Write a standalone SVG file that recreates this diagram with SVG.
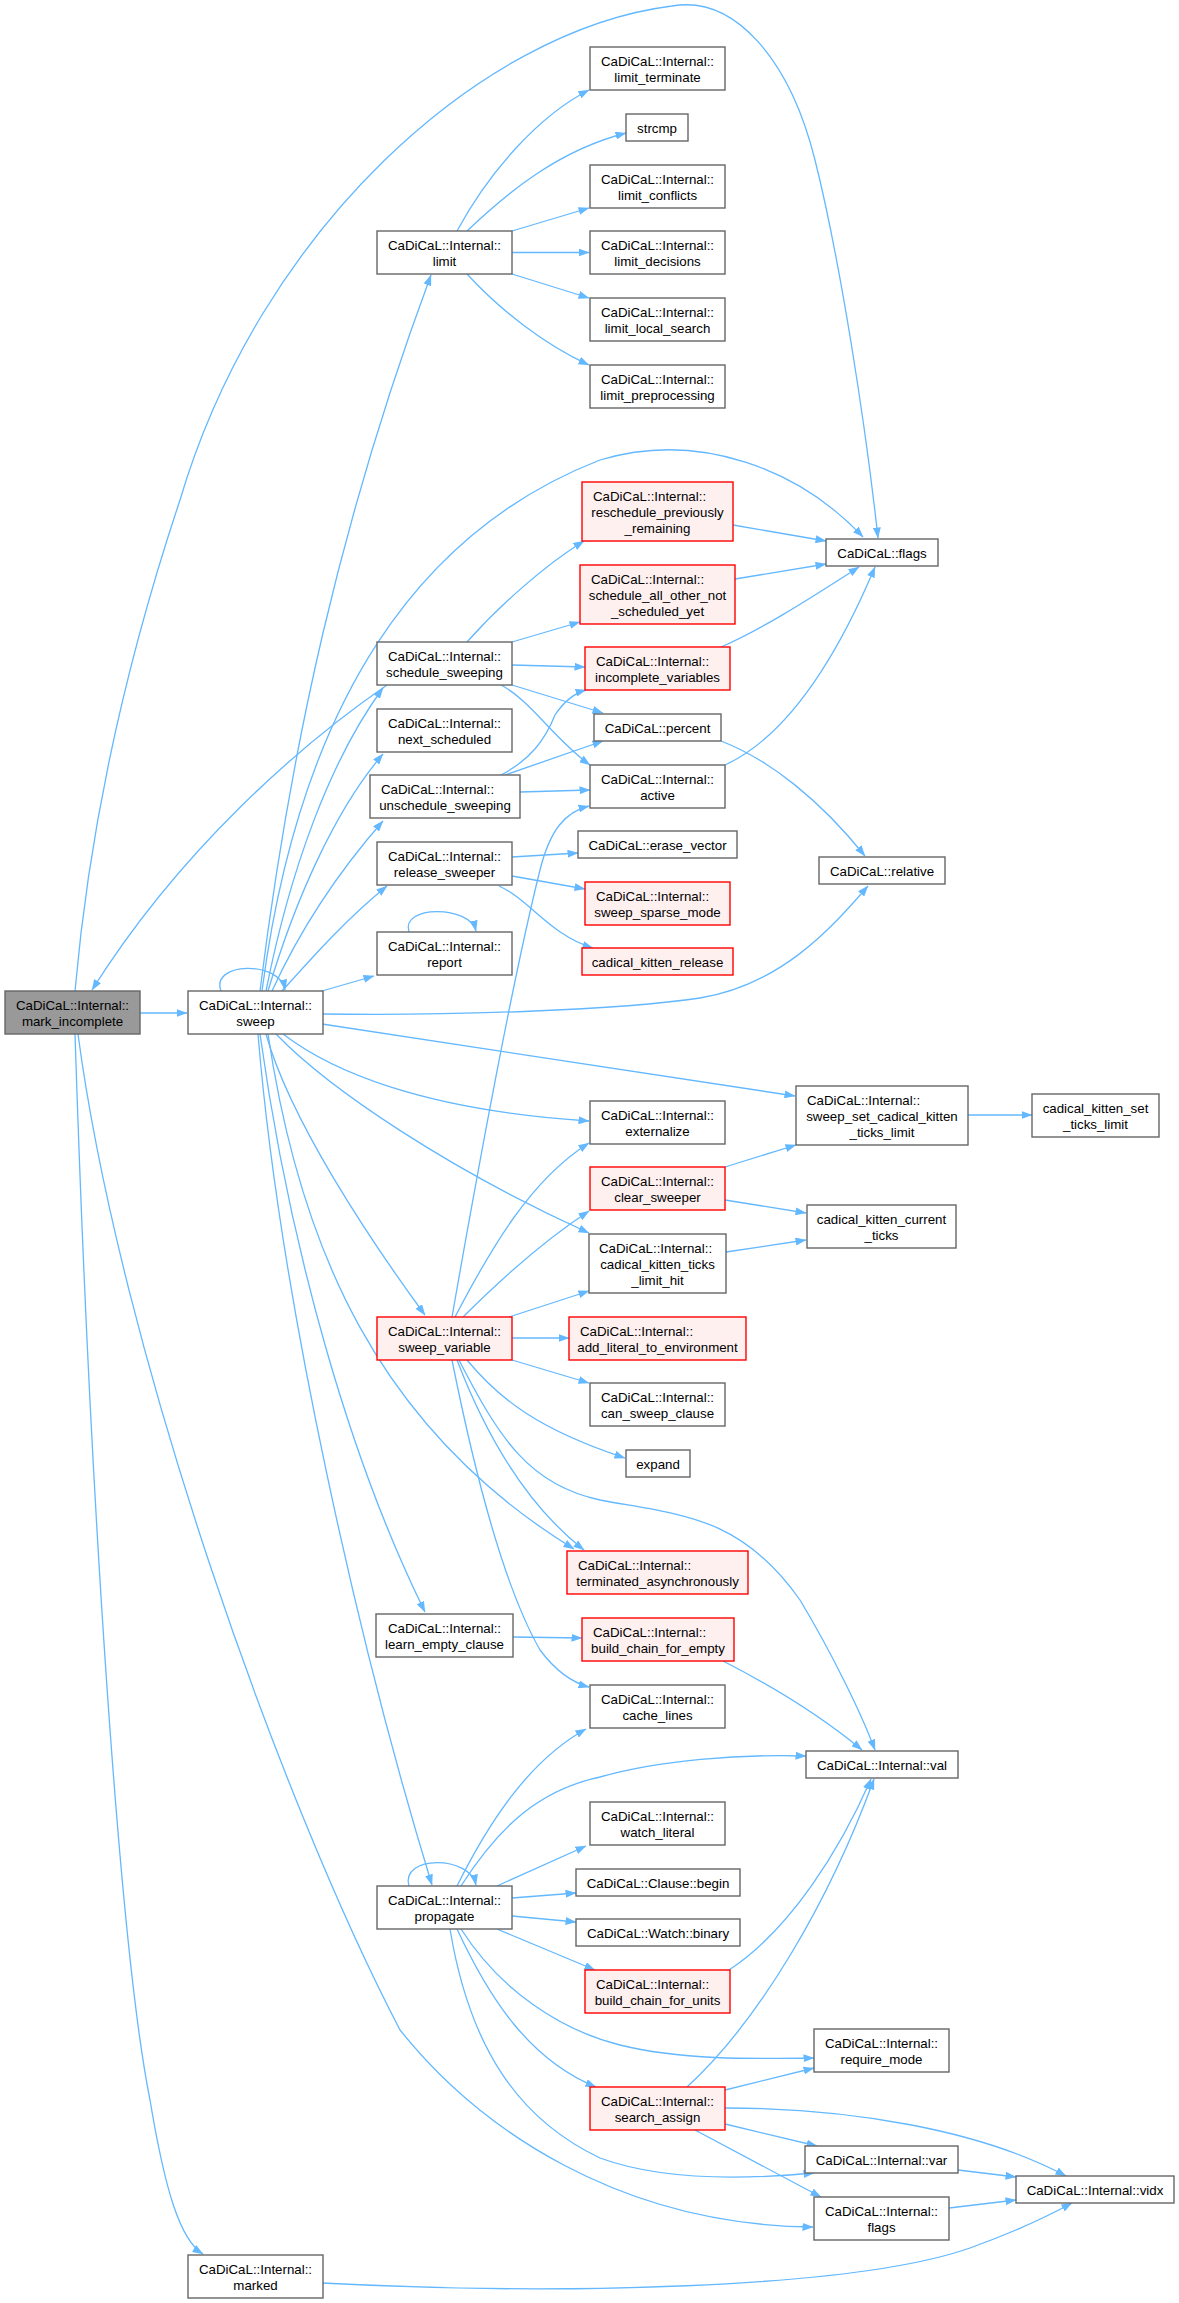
<svg xmlns="http://www.w3.org/2000/svg" width="1179" height="2303" viewBox="0 0 1179 2303">
<style>
rect{fill:#fff;stroke:#666;stroke-width:1.4}
.r rect{fill:#fff0f0;stroke:#f00}
.g rect{fill:#999}
text{font-family:"Liberation Sans",Arial,Helvetica,sans-serif;font-size:13.3px;fill:#000}
.c{text-anchor:middle}
#edges path{fill:none;stroke:#63b8ff;stroke-width:1.3;marker-end:url(#a)}
</style>
<defs>
<marker id="a" markerWidth="11" markerHeight="8" refX="10.5" refY="4" orient="auto" markerUnits="userSpaceOnUse"><path d="M0,0 L11,4 L0,8 z" fill="#63b8ff"/></marker>
</defs>
<rect x="0" y="0" width="1179" height="2303" style="fill:#fff;stroke:none"/>
<g id="edges">
<path d="M140,1013 L187,1013"/>
<path d="M75,991 C90,820 130,650 180,500 C260,230 480,30 672,6 C735,-5 790,60 815,160 C840,260 865,420 878,538"/>
<path d="M75,1034 C90,1500 120,1950 150,2100 C165,2190 180,2240 203,2254"/>
<path d="M78,1034 C120,1350 280,1800 400,2030 C480,2130 620,2225 813,2227"/>
<path d="M387,685 C300,745 180,850 92,990"/>
<path d="M221,991 C210,962 280,960 285,990"/>
<path d="M260,991 C290,750 340,520 431,275"/>
<path d="M262,991 C300,700 420,530 600,460 C700,430 800,470 863,537"/>
<path d="M266,991 C290,870 330,760 383,688"/>
<path d="M268,991 C295,900 335,810 383,754"/>
<path d="M272,991 C300,930 340,870 383,821"/>
<path d="M282,991 C310,960 345,920 387,886"/>
<path d="M322,991 L374,976"/>
<path d="M322,1014 C450,1016 620,1010 700,998 C780,985 830,930 868,886"/>
<path d="M322,1024 L795,1096"/>
<path d="M283,1034 C330,1070 420,1110 589,1121"/>
<path d="M276,1034 C330,1090 450,1170 589,1233"/>
<path d="M266,1034 C290,1120 370,1240 425,1315"/>
<path d="M268,1034 C300,1250 380,1430 574,1549"/>
<path d="M260,1034 C290,1250 350,1460 425,1612"/>
<path d="M258,1034 C280,1300 360,1650 432,1885"/>
<path d="M457,231 C490,170 540,115 589,90"/>
<path d="M467,231 C510,190 560,150 626,133"/>
<path d="M512,231 L589,208"/>
<path d="M512,252.5 L589,252.5"/>
<path d="M512,274 L589,298"/>
<path d="M467,274 C500,310 545,345 589,365"/>
<path d="M467,642 C500,605 545,565 584,541"/>
<path d="M512,642 L580,622"/>
<path d="M512,665 L585,667"/>
<path d="M512,685 L603,713"/>
<path d="M501,685 C530,700 555,740 590,765"/>
<path d="M501,775 C530,760 545,740 555,715 C565,700 575,693 586,690"/>
<path d="M505,775 L603,741"/>
<path d="M520,792 L590,790"/>
<path d="M512,857 L578,853"/>
<path d="M512,876 L585,889"/>
<path d="M499,886 C530,900 550,935 593,948"/>
<path d="M409,932 C400,905 470,905 476,931"/>
<path d="M733,525 L826,541"/>
<path d="M735,579 L826,564"/>
<path d="M721,647 C760,630 800,605 859,567"/>
<path d="M725,765 C790,735 840,650 875,567"/>
<path d="M721,741 C770,760 820,800 865,856"/>
<path d="M452,1317 C490,1100 520,950 540,870 C550,830 565,812 589,806"/>
<path d="M455,1317 C490,1250 530,1180 589,1143"/>
<path d="M463,1317 C500,1280 545,1240 589,1211"/>
<path d="M509,1317 L589,1291"/>
<path d="M512,1338 L569,1338"/>
<path d="M512,1360 L589,1383"/>
<path d="M467,1360 C500,1400 540,1430 625,1458"/>
<path d="M459,1360 C500,1440 530,1485 600,1500 C680,1515 740,1515 800,1600 C830,1650 860,1710 875,1750"/>
<path d="M457,1360 C480,1420 520,1500 584,1550"/>
<path d="M452,1360 C470,1450 500,1580 540,1650 C555,1670 570,1682 589,1687"/>
<path d="M725,1167 L796,1145"/>
<path d="M725,1200 L806,1213"/>
<path d="M726,1252 L806,1240"/>
<path d="M968,1115 L1032,1115"/>
<path d="M513,1637 L582,1638"/>
<path d="M723,1661 C770,1685 820,1715 862,1750"/>
<path d="M409,1886 C400,1855 470,1855 476,1885"/>
<path d="M457,1886 C490,1820 530,1760 586,1729"/>
<path d="M461,1886 C500,1825 540,1790 600,1777 C660,1760 740,1754 806,1756"/>
<path d="M497,1886 L586,1846"/>
<path d="M512,1898 L576,1893"/>
<path d="M512,1916 L576,1922"/>
<path d="M497,1929 L595,1970"/>
<path d="M461,1929 C500,1990 560,2030 620,2045 C680,2060 750,2059 814,2058"/>
<path d="M457,1929 C490,2000 530,2060 596,2087"/>
<path d="M450,1929 C470,2050 520,2120 600,2158 C660,2180 740,2180 814,2173"/>
<path d="M729,1970 C790,1930 840,1850 871,1779"/>
<path d="M687,2087 C760,2020 830,1900 874,1779"/>
<path d="M725,2090 L814,2068"/>
<path d="M725,2108 C850,2108 980,2130 1066,2176"/>
<path d="M725,2124 L817,2146"/>
<path d="M695,2130 L821,2197"/>
<path d="M958,2170 L1016,2177"/>
<path d="M949,2208 L1016,2200"/>
<path d="M322,2283 C550,2295 850,2290 970,2248 C1020,2230 1050,2215 1072,2203"/>
</g>
<g id="mark_incomplete" class="g"><rect x="5" y="991" width="135" height="43"/><text class="c" x="72.5" y="1009.5">CaDiCaL::Internal::</text><text class="c" x="72.5" y="1025.5">mark_incomplete</text></g>
<g id="sweep"><rect x="188" y="991" width="135" height="43"/><text class="c" x="255.5" y="1009.5">CaDiCaL::Internal::</text><text class="c" x="255.5" y="1025.5">sweep</text></g>
<g id="limit"><rect x="377" y="231" width="135" height="43"/><text class="c" x="444.5" y="249.5">CaDiCaL::Internal::</text><text class="c" x="444.5" y="265.5">limit</text></g>
<g id="limit_terminate"><rect x="590" y="47" width="135" height="43"/><text class="c" x="657.5" y="65.5">CaDiCaL::Internal::</text><text class="c" x="657.5" y="81.5">limit_terminate</text></g>
<g id="strcmp"><rect x="626" y="114" width="62" height="27"/><text class="c" x="657" y="132.5">strcmp</text></g>
<g id="limit_conflicts"><rect x="590" y="165" width="135" height="43"/><text class="c" x="657.5" y="183.5">CaDiCaL::Internal::</text><text class="c" x="657.5" y="199.5">limit_conflicts</text></g>
<g id="limit_decisions"><rect x="590" y="231" width="135" height="43"/><text class="c" x="657.5" y="249.5">CaDiCaL::Internal::</text><text class="c" x="657.5" y="265.5">limit_decisions</text></g>
<g id="limit_local_search"><rect x="590" y="298" width="135" height="43"/><text class="c" x="657.5" y="316.5">CaDiCaL::Internal::</text><text class="c" x="657.5" y="332.5">limit_local_search</text></g>
<g id="limit_preprocessing"><rect x="590" y="365" width="135" height="43"/><text class="c" x="657.5" y="383.5">CaDiCaL::Internal::</text><text class="c" x="657.5" y="399.5">limit_preprocessing</text></g>
<g id="cadical_flags"><rect x="826" y="539" width="112" height="27"/><text class="c" x="882" y="557.5">CaDiCaL::flags</text></g>
<g id="reschedule_previously_remaining" class="r"><rect x="582" y="482" width="151" height="59"/><text x="593" y="500.5">CaDiCaL::Internal::</text><text class="c" x="657.5" y="516.5">reschedule_previously</text><text class="c" x="657.5" y="532.5">_remaining</text></g>
<g id="schedule_all_other_not_scheduled_yet" class="r"><rect x="580" y="565" width="155" height="59"/><text x="591" y="583.5">CaDiCaL::Internal::</text><text class="c" x="657.5" y="599.5">schedule_all_other_not</text><text class="c" x="657.5" y="615.5">_scheduled_yet</text></g>
<g id="incomplete_variables" class="r"><rect x="585" y="647" width="145" height="43"/><text x="596" y="665.5">CaDiCaL::Internal::</text><text class="c" x="657.5" y="681.5">incomplete_variables</text></g>
<g id="percent"><rect x="594" y="714" width="127" height="27"/><text class="c" x="657.5" y="732.5">CaDiCaL::percent</text></g>
<g id="active"><rect x="590" y="765" width="135" height="43"/><text class="c" x="657.5" y="783.5">CaDiCaL::Internal::</text><text class="c" x="657.5" y="799.5">active</text></g>
<g id="erase_vector"><rect x="578" y="831" width="159" height="27"/><text class="c" x="657.5" y="849.5">CaDiCaL::erase_vector</text></g>
<g id="relative"><rect x="819" y="857" width="126" height="27"/><text class="c" x="882" y="875.5">CaDiCaL::relative</text></g>
<g id="sweep_sparse_mode" class="r"><rect x="585" y="882" width="145" height="43"/><text x="596" y="900.5">CaDiCaL::Internal::</text><text class="c" x="657.5" y="916.5">sweep_sparse_mode</text></g>
<g id="cadical_kitten_release" class="r"><rect x="582" y="948" width="151" height="27"/><text class="c" x="657.5" y="966.5">cadical_kitten_release</text></g>
<g id="schedule_sweeping"><rect x="377" y="642" width="135" height="43"/><text class="c" x="444.5" y="660.5">CaDiCaL::Internal::</text><text class="c" x="444.5" y="676.5">schedule_sweeping</text></g>
<g id="next_scheduled"><rect x="377" y="709" width="135" height="43"/><text class="c" x="444.5" y="727.5">CaDiCaL::Internal::</text><text class="c" x="444.5" y="743.5">next_scheduled</text></g>
<g id="unschedule_sweeping"><rect x="370" y="775" width="150" height="43"/><text x="381" y="793.5">CaDiCaL::Internal::</text><text class="c" x="445" y="809.5">unschedule_sweeping</text></g>
<g id="release_sweeper"><rect x="377" y="842" width="135" height="43"/><text class="c" x="444.5" y="860.5">CaDiCaL::Internal::</text><text class="c" x="444.5" y="876.5">release_sweeper</text></g>
<g id="report"><rect x="377" y="932" width="135" height="43"/><text class="c" x="444.5" y="950.5">CaDiCaL::Internal::</text><text class="c" x="444.5" y="966.5">report</text></g>
<g id="externalize"><rect x="590" y="1101" width="135" height="43"/><text class="c" x="657.5" y="1119.5">CaDiCaL::Internal::</text><text class="c" x="657.5" y="1135.5">externalize</text></g>
<g id="sweep_set_cadical_kitten_ticks_limit"><rect x="796" y="1086" width="172" height="59"/><text x="807" y="1104.5">CaDiCaL::Internal::</text><text class="c" x="882" y="1120.5">sweep_set_cadical_kitten</text><text class="c" x="882" y="1136.5">_ticks_limit</text></g>
<g id="cadical_kitten_set_ticks_limit"><rect x="1032" y="1094" width="127" height="43"/><text class="c" x="1095.5" y="1112.5">cadical_kitten_set</text><text class="c" x="1095.5" y="1128.5">_ticks_limit</text></g>
<g id="clear_sweeper" class="r"><rect x="590" y="1167" width="135" height="43"/><text class="c" x="657.5" y="1185.5">CaDiCaL::Internal::</text><text class="c" x="657.5" y="1201.5">clear_sweeper</text></g>
<g id="cadical_kitten_current_ticks"><rect x="807" y="1205" width="149" height="43"/><text class="c" x="881.5" y="1223.5">cadical_kitten_current</text><text class="c" x="881.5" y="1239.5">_ticks</text></g>
<g id="cadical_kitten_ticks_limit_hit"><rect x="589" y="1234" width="137" height="59"/><text x="599" y="1252.5">CaDiCaL::Internal::</text><text class="c" x="657.5" y="1268.5">cadical_kitten_ticks</text><text class="c" x="657.5" y="1284.5">_limit_hit</text></g>
<g id="sweep_variable" class="r"><rect x="377" y="1317" width="135" height="43"/><text class="c" x="444.5" y="1335.5">CaDiCaL::Internal::</text><text class="c" x="444.5" y="1351.5">sweep_variable</text></g>
<g id="add_literal_to_environment" class="r"><rect x="569" y="1317" width="177" height="43"/><text x="580" y="1335.5">CaDiCaL::Internal::</text><text class="c" x="657.5" y="1351.5">add_literal_to_environment</text></g>
<g id="can_sweep_clause"><rect x="590" y="1383" width="135" height="43"/><text class="c" x="657.5" y="1401.5">CaDiCaL::Internal::</text><text class="c" x="657.5" y="1417.5">can_sweep_clause</text></g>
<g id="expand"><rect x="626" y="1450" width="64" height="27"/><text class="c" x="658" y="1468.5">expand</text></g>
<g id="terminated_asynchronously" class="r"><rect x="567" y="1551" width="181" height="43"/><text x="578" y="1569.5">CaDiCaL::Internal::</text><text class="c" x="657.5" y="1585.5">terminated_asynchronously</text></g>
<g id="learn_empty_clause"><rect x="376" y="1614" width="137" height="43"/><text class="c" x="444.5" y="1632.5">CaDiCaL::Internal::</text><text class="c" x="444.5" y="1648.5">learn_empty_clause</text></g>
<g id="build_chain_for_empty" class="r"><rect x="582" y="1618" width="152" height="43"/><text x="593" y="1636.5">CaDiCaL::Internal::</text><text class="c" x="658" y="1652.5">build_chain_for_empty</text></g>
<g id="cache_lines"><rect x="590" y="1685" width="135" height="43"/><text class="c" x="657.5" y="1703.5">CaDiCaL::Internal::</text><text class="c" x="657.5" y="1719.5">cache_lines</text></g>
<g id="val"><rect x="806" y="1751" width="152" height="27"/><text class="c" x="882" y="1769.5">CaDiCaL::Internal::val</text></g>
<g id="watch_literal"><rect x="590" y="1802" width="135" height="43"/><text class="c" x="657.5" y="1820.5">CaDiCaL::Internal::</text><text class="c" x="657.5" y="1836.5">watch_literal</text></g>
<g id="clause_begin"><rect x="576" y="1869" width="164" height="27"/><text class="c" x="658" y="1887.5">CaDiCaL::Clause::begin</text></g>
<g id="watch_binary"><rect x="576" y="1919" width="164" height="27"/><text class="c" x="658" y="1937.5">CaDiCaL::Watch::binary</text></g>
<g id="propagate"><rect x="377" y="1886" width="135" height="43"/><text class="c" x="444.5" y="1904.5">CaDiCaL::Internal::</text><text class="c" x="444.5" y="1920.5">propagate</text></g>
<g id="build_chain_for_units" class="r"><rect x="585" y="1970" width="145" height="43"/><text x="596" y="1988.5">CaDiCaL::Internal::</text><text class="c" x="657.5" y="2004.5">build_chain_for_units</text></g>
<g id="require_mode"><rect x="814" y="2029" width="135" height="43"/><text class="c" x="881.5" y="2047.5">CaDiCaL::Internal::</text><text class="c" x="881.5" y="2063.5">require_mode</text></g>
<g id="search_assign" class="r"><rect x="590" y="2087" width="135" height="43"/><text class="c" x="657.5" y="2105.5">CaDiCaL::Internal::</text><text class="c" x="657.5" y="2121.5">search_assign</text></g>
<g id="var"><rect x="805" y="2146" width="153" height="27"/><text class="c" x="881.5" y="2164.5">CaDiCaL::Internal::var</text></g>
<g id="internal_flags"><rect x="814" y="2197" width="135" height="43"/><text class="c" x="881.5" y="2215.5">CaDiCaL::Internal::</text><text class="c" x="881.5" y="2231.5">flags</text></g>
<g id="vidx"><rect x="1016" y="2176" width="158" height="27"/><text class="c" x="1095" y="2194.5">CaDiCaL::Internal::vidx</text></g>
<g id="marked"><rect x="188" y="2255" width="135" height="43"/><text class="c" x="255.5" y="2273.5">CaDiCaL::Internal::</text><text class="c" x="255.5" y="2289.5">marked</text></g>
</svg>
